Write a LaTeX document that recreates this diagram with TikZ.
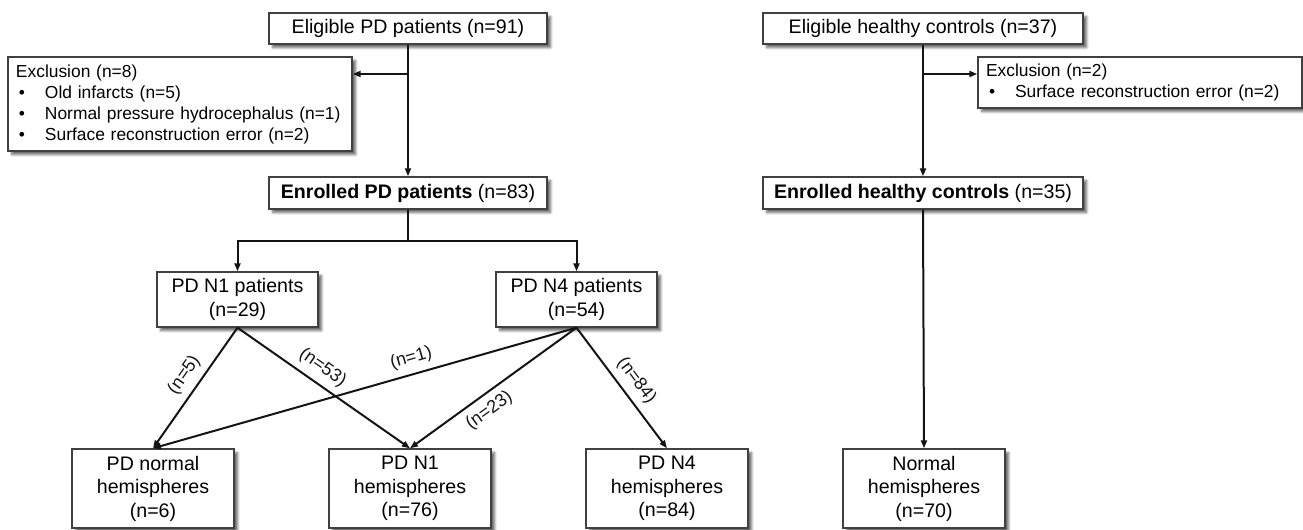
\documentclass[tikz,border=0pt]{standalone}
\usepackage{fontspec}
\setmainfont{Liberation Sans}
\usepackage{tikz}
\usetikzlibrary{arrows.meta, shadows, shadows.blur}
\definecolor{lineBlack}{gray}{0.08}
\definecolor{boxGray}{gray}{0.25}
\newcommand{\dotItem}[1]{\hspace*{1.5pt}\makebox[13pt][l]{\textbullet}#1}

\begin{document}
\begin{tikzpicture}[x=0.5pt, y=-0.5pt,
    flowBox/.style={draw=boxGray, line width=0.7pt, fill=white, align=center,
        blur shadow={shadow xshift=1.8pt, shadow yshift=-1.8pt, shadow blur radius=1.2pt, shadow blur steps=6, shadow opacity=60},
        inner sep=0pt, font=\fontsize{9.8}{12}\selectfont},
    exclBox/.style={flowBox, align=left, inner xsep=4pt, font=\fontsize{8.7}{10.5}\selectfont},
    arrowLine/.style={-{Triangle[length=4pt, width=3pt]}, line width=1pt, lineBlack},
    plainLine/.style={line width=1pt, lineBlack},
    countLabel/.style={sloped, font=\fontsize{9}{10}\selectfont}]
    \useasboundingbox (0,0) rectangle (1303,530);

    \node[flowBox, minimum width=139pt, minimum height=15.5pt] (eligPd) at (408,28.5) {Eligible PD patients (n=91)};
    \node[flowBox, minimum width=160pt, minimum height=15.5pt] (eligHc) at (923,28.5) {Eligible healthy controls (n=37)};
    \node[exclBox, text width=164pt, minimum height=47pt] (exclPd) at (180,104)
        {Exclusion (n=8)\\ \dotItem{Old infarcts (n=5)}\\ \dotItem{Normal pressure hydrocephalus (n=1)}\\ \dotItem{Surface reconstruction error (n=2)}};
    \node[exclBox, text width=154pt, minimum height=25.5pt] (exclHc) at (1140,82.5)
        {Exclusion (n=2)\\ \dotItem{Surface reconstruction error (n=2)}};
    \node[flowBox, minimum width=139pt, minimum height=16pt] (enrolPd) at (408,193) {\textbf{Enrolled PD patients} (n=83)};
    \node[flowBox, minimum width=160pt, minimum height=16pt] (enrolHc) at (923,193) {\textbf{Enrolled healthy controls} (n=35)};

    \node[flowBox, minimum width=80.5pt, minimum height=27.5pt] (pdN1) at (237.5,299.5) {PD N1 patients\\(n=29)};
    \node[flowBox, minimum width=80.5pt, minimum height=27.5pt] (pdN4) at (576.5,299.5) {PD N4 patients\\(n=54)};

    \node[flowBox, minimum width=81pt, minimum height=39.5pt, font=\fontsize{9.8}{11.75}\selectfont] (hemiNorm) at (153,488.5) {PD normal\\hemispheres\\(n=6)};
    \node[flowBox, minimum width=81pt, minimum height=39.5pt, font=\fontsize{9.8}{11.75}\selectfont] (hemiN1) at (410,488.5) {PD N1\\hemispheres\\(n=76)};
    \node[flowBox, minimum width=81pt, minimum height=39.5pt, font=\fontsize{9.8}{11.75}\selectfont] (hemiN4) at (667,488.5) {PD N4\\hemispheres\\(n=84)};
    \node[flowBox, minimum width=81pt, minimum height=39.5pt, font=\fontsize{9.8}{11.75}\selectfont] (hemiCtl) at (924,488.5) {Normal\\hemispheres\\(n=70)};

    \coordinate (pdSplit) at (408,74);
    \coordinate (hcSplit) at (923,74);
    \coordinate (pdFork) at (408,241);

    \draw[arrowLine] (eligPd.south) -- (enrolPd.north);
    \draw[arrowLine] (pdSplit) -- (pdSplit -| exclPd.east);
    \draw[arrowLine] (eligHc.south) -- (enrolHc.north);
    \draw[arrowLine] (hcSplit) -- (hcSplit -| exclHc.west);

    \draw[plainLine] (enrolPd.south) -- (pdFork);
    \draw[arrowLine] (pdFork) -| (pdN1.north);
    \draw[arrowLine] (pdFork) -| (pdN4.north);
    \draw[arrowLine] (enrolHc.south) -- (hemiCtl.north);

    \draw[arrowLine] (pdN1.south) -- node[countLabel, above, pos=0.47, inner sep=3.5pt] {(n=5)} (hemiNorm.north);
    \draw[arrowLine] (pdN1.south) -- node[countLabel, above, pos=0.44] {(n=53)} (hemiN1.north);
    \draw[arrowLine] (pdN4.south) -- node[countLabel, above, pos=0.38] {(n=1)} (hemiNorm.north);
    \draw[arrowLine] (pdN4.south) -- node[countLabel, below, pos=0.58] {(n=23)} (hemiN1.north);
    \draw[arrowLine] (pdN4.south) -- node[countLabel, above, pos=0.52] {(n=84)} (hemiN4.north);
\end{tikzpicture}
\end{document}
